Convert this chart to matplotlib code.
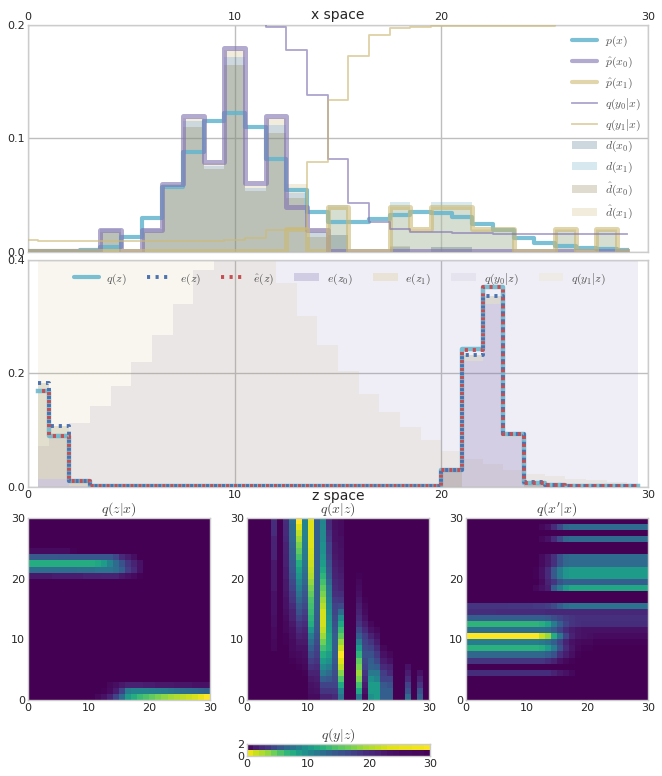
"""Latent space panels: x space and z space densities plus conditional maps."""
import numpy as np
import matplotlib
matplotlib.use('Agg')
import matplotlib.pyplot as plt
from matplotlib.patches import Patch
from matplotlib.lines import Line2D

plt.rcParams.update({
    'font.family': 'DejaVu Sans', 'font.size': 8, 'mathtext.fontset': 'cm',
    'xtick.labelsize': 8, 'ytick.labelsize': 8, 'text.color': '#262626',
    'xtick.color': '#262626', 'ytick.color': '#262626',
    'axes.edgecolor': '#CCCCCC', 'axes.linewidth': 1.0,
})

BLUE, RED, PURPLE, TAN, CYAN = '#4C72B0', '#C44E52', '#8172B2', '#CCB974', '#64B5CD'

# x space, one value per bin 0..29
p_x = [0.0005, 0.0005, 0.0006, 0.002, 0.0045, 0.0135, 0.030, 0.057, 0.0884, 0.115,
       0.1228, 0.110, 0.082, 0.0543, 0.035, 0.026, 0.026, 0.0294, 0.033, 0.035,
       0.034, 0.0305, 0.025, 0.0197, 0.0126, 0.008, 0.005, 0.0035, 0.0026, 0.0018]
p_hat_x0 = [0.0005, 0.0005, 0.0005, 0.0005, 0.0197, 0.0005, 0.0197, 0.06, 0.12, 0.079,
            0.18, 0.0605, 0.12, 0.04, 0.0197, 0.001, 0.0005, 0.0005, 0.0005, 0.0005,
            0.0005, 0.0005, 0.0005, 0.0005, 0.0005, 0.0005, 0.0005, 0.0005, 0.0005, 0.0005]
p_hat_x1 = [0.0005, 0.0005, 0.0005, 0.0005, 0.0005, 0.0005, 0.0005, 0.0005, 0.0005, 0.0005,
            0.0005, 0.0005, 0.0005, 0.02, 0.0005, 0.04, 0.0005, 0.0005, 0.04, 0.02,
            0.04, 0.04, 0.02, 0.02, 0.0005, 0.0005, 0.02, 0.0005, 0.02, 0.0005]
q_y0_x = [0.21, 0.21, 0.21, 0.21, 0.21, 0.21, 0.21, 0.21, 0.21, 0.21,
          0.208, 0.205, 0.198, 0.178, 0.138, 0.082, 0.043, 0.026, 0.020, 0.018,
          0.0175, 0.017, 0.0165, 0.016, 0.016, 0.016, 0.016, 0.016, 0.016, 0.016]
q_y1_x = [0.0103, 0.0094, 0.0094, 0.0094, 0.0094, 0.0094, 0.0094, 0.0094, 0.0094, 0.0094,
          0.0105, 0.0126, 0.019, 0.020, 0.079, 0.134, 0.173, 0.191, 0.197, 0.1985,
          0.199, 0.199, 0.199, 0.199, 0.199, 0.199, 0.203, 0.203, 0.203, 0.203]
d_x0 = [0, 0, 0, 0, 0.02, 0, 0.02, 0.058, 0.115, 0.076,
        0.172, 0.056, 0.112, 0.052, 0.0176, 0.015, 0, 0, 0.004, 0,
        0.004, 0.004, 0, 0, 0, 0, 0, 0, 0, 0]
d_x1 = [0, 0, 0, 0, 0, 0, 0, 0, 0, 0,
        0, 0, 0, 0, 0, 0.0417, 0, 0, 0.044, 0.018,
        0.044, 0.044, 0.0197, 0.0197, 0, 0, 0.0197, 0, 0.0197, 0]
d_hat_x0 = [0, 0, 0, 0, 0.018, 0, 0.018, 0.056, 0.11, 0.0734,
            0.165, 0.054, 0.105, 0.0476, 0.0132, 0.015, 0, 0, 0.005, 0,
            0.004, 0.004, 0, 0, 0, 0, 0, 0, 0, 0]
d_hat_x1 = [0, 0, 0, 0, 0.02, 0, 0.02, 0.06, 0.118, 0.078,
            0.178, 0.0584, 0.118, 0.06, 0.02, 0.04, 0, 0, 0.04, 0.02,
            0.04, 0.04, 0.02, 0.02, 0, 0, 0.02, 0, 0.02, 0]

# z space, one value per bin 0..29
q_z = [0.169, 0.0905, 0.01, 0.001, 0.001, 0.001, 0.001, 0.001, 0.001, 0.001,
       0.001, 0.001, 0.001, 0.001, 0.001, 0.001, 0.001, 0.001, 0.001, 0.001,
       0.0305, 0.2438, 0.3524, 0.094, 0.007, 0.003, 0.001, 0.001, 0.001, 0.001]
e_z = [0.184, 0.107, 0.01, 0.001, 0.001, 0.001, 0.001, 0.001, 0.001, 0.001,
       0.001, 0.001, 0.001, 0.001, 0.001, 0.001, 0.001, 0.001, 0.001, 0.001,
       0.03, 0.232, 0.337, 0.094, 0.008, 0.003, 0.001, 0.001, 0.001, 0.001]
e_hat_z = [0.169, 0.0905, 0.01, 0.001, 0.001, 0.001, 0.001, 0.001, 0.001, 0.001,
           0.001, 0.001, 0.001, 0.001, 0.001, 0.001, 0.001, 0.001, 0.001, 0.001,
           0.0305, 0.242, 0.3524, 0.094, 0.007, 0.003, 0.001, 0.001, 0.001, 0.001]
e_z0 = [0.0147, 0.0147, 0.002, 0, 0, 0, 0, 0, 0, 0,
        0, 0, 0, 0, 0, 0, 0, 0, 0, 0,
        0.0305, 0.2214, 0.3224, 0.0875, 0.005, 0.002, 0, 0, 0, 0]
e_z1 = [0.184, 0.107, 0.01, 0, 0, 0, 0, 0, 0, 0,
        0, 0, 0, 0, 0, 0, 0, 0, 0, 0,
        0, 0.232, 0.337, 0.094, 0, 0, 0, 0, 0, 0]
q_y0_z = [0.0717, 0.089, 0.1128, 0.1433, 0.1785, 0.2197, 0.2684, 0.323, 0.383, 0.42,
          0.42, 0.42, 0.42, 0.42, 0.42, 0.42, 0.42, 0.42, 0.42, 0.42,
          0.42, 0.42, 0.42, 0.42, 0.42, 0.42, 0.42, 0.42, 0.42, 0.42]
q_y1_z = [0.42, 0.42, 0.42, 0.42, 0.42, 0.42, 0.42, 0.42, 0.42, 0.42,
          0.42, 0.42, 0.36, 0.302, 0.2508, 0.205, 0.1645, 0.1316, 0.105, 0.082,
          0.064, 0.05, 0.0405, 0.03, 0.0235, 0.0188, 0.0147, 0.0117, 0.008, 0.006]

# q(z|x): non-empty rows only, each 30 columns
qzx_rows = {
    0: [0, 0, 0, 0, 0, 0, 0, 0, 0, 0, 0, 0.02, 0.05, 0.1, 0.2, 0.35, 0.55, 0.62, 0.68, 0.72,
        0.76, 0.8, 0.83, 0.86, 0.88, 0.9, 0.92, 0.94, 0.97, 1.0],
    1: [0, 0, 0, 0, 0, 0, 0, 0, 0, 0, 0, 0, 0.01, 0.03, 0.08, 0.2, 0.42, 0.45, 0.45, 0.45,
        0.44, 0.43, 0.42, 0.4, 0.38, 0.37, 0.36, 0.35, 0.33, 0.32],
    2: [0, 0, 0, 0, 0, 0, 0, 0, 0, 0, 0, 0, 0, 0.02, 0.04, 0.07, 0.09, 0.09, 0.09, 0.08,
        0.08, 0.07, 0.07, 0.07, 0.06, 0.06, 0.06, 0.05, 0.05, 0.05],
    20: [0.07, 0.07, 0.07, 0.07, 0.08, 0.08, 0.08, 0.08, 0.08, 0.09, 0.09, 0.09, 0.1, 0.1, 0.1,
         0.07, 0.05, 0.03, 0.01, 0, 0, 0, 0, 0, 0, 0, 0, 0, 0, 0],
    21: [0.36, 0.36, 0.36, 0.36, 0.36, 0.36, 0.36, 0.36, 0.37, 0.37, 0.37, 0.38, 0.38, 0.38, 0.36,
         0.3, 0.18, 0.12, 0.05, 0, 0, 0, 0, 0, 0, 0, 0, 0, 0, 0],
    22: [0.62, 0.62, 0.62, 0.62, 0.62, 0.62, 0.62, 0.62, 0.62, 0.62, 0.62, 0.6, 0.55, 0.45, 0.35,
         0.25, 0.15, 0.1, 0.05, 0, 0, 0, 0, 0, 0, 0, 0, 0, 0, 0],
    23: [0.28, 0.28, 0.28, 0.28, 0.28, 0.27, 0.27, 0.27, 0.27, 0.27, 0.27, 0.27, 0.27, 0.27, 0.22,
         0.12, 0.08, 0.04, 0, 0, 0, 0, 0, 0, 0, 0, 0, 0, 0, 0],
    24: [0.03, 0.03, 0.03, 0.03, 0.03, 0.03, 0.03, 0.01, 0, 0, 0, 0, 0, 0, 0,
         0, 0, 0, 0, 0, 0, 0, 0, 0, 0, 0, 0, 0, 0, 0],
}

# q(x|z): non-empty columns only, each 30 rows from z=0 upward
qxz_cols = {
    4: [0, 0, 0, 0, 0, 0, 0, 0, 0.02, 0.02, 0.03, 0.03, 0.04, 0.04, 0.05, 0.05, 0.05, 0.05, 0.07, 0.07,
        0.07, 0.07, 0.07, 0.1, 0.1, 0.1, 0.1, 0.13, 0.13, 0.13],
    6: [0, 0, 0, 0, 0, 0, 0, 0, 0, 0.01, 0.01, 0.02, 0.02, 0.03, 0.04, 0.05, 0.05, 0.06, 0.07, 0.07,
        0.08, 0.08, 0.09, 0.09, 0.1, 0.1, 0.11, 0.12, 0.12, 0.13],
    7: [0, 0, 0, 0, 0, 0, 0.01, 0.02, 0.03, 0.03, 0.04, 0.05, 0.07, 0.09, 0.1, 0.12, 0.15, 0.17, 0.2, 0.22,
        0.25, 0.27, 0.29, 0.31, 0.32, 0.33, 0.35, 0.36, 0.37, 0.38],
    8: [0, 0, 0, 0, 0, 0.01, 0.02, 0.03, 0.05, 0.07, 0.09, 0.12, 0.15, 0.2, 0.25, 0.28, 0.33, 0.38, 0.43, 0.47,
        0.52, 0.57, 0.62, 0.7, 0.75, 0.8, 0.85, 0.9, 0.95, 1.0],
    9: [0, 0, 0, 0, 0.01, 0.02, 0.03, 0.04, 0.05, 0.07, 0.08, 0.1, 0.13, 0.16, 0.19, 0.22, 0.25, 0.27, 0.3, 0.33,
        0.35, 0.37, 0.39, 0.4, 0.41, 0.42, 0.43, 0.44, 0.45, 0.45],
    10: [0.03, 0.04, 0.05, 0.07, 0.1, 0.14, 0.18, 0.24, 0.3, 0.36, 0.42, 0.52, 0.62, 0.65, 0.68, 0.7, 0.72, 0.76, 0.8, 0.84,
         0.88, 0.9, 0.92, 0.93, 0.94, 0.95, 0.95, 0.95, 0.95, 0.95],
    11: [0.03, 0.05, 0.06, 0.08, 0.1, 0.12, 0.15, 0.18, 0.2, 0.23, 0.25, 0.27, 0.28, 0.29, 0.3, 0.3, 0.3, 0.3, 0.3, 0.3,
         0.3, 0.3, 0.3, 0.3, 0.3, 0.3, 0.3, 0.3, 0.3, 0.3],
    12: [0.1, 0.15, 0.2, 0.3, 0.4, 0.47, 0.55, 0.62, 0.7, 0.78, 0.85, 0.9, 0.93, 0.93, 0.93, 0.89, 0.85, 0.8, 0.75, 0.7,
         0.65, 0.6, 0.55, 0.52, 0.5, 0.5, 0.48, 0.47, 0.46, 0.45],
    13: [0.1, 0.15, 0.2, 0.27, 0.35, 0.42, 0.5, 0.56, 0.62, 0.61, 0.6, 0.57, 0.55, 0.52, 0.5, 0.48, 0.45, 0.42, 0.4, 0.35,
         0.3, 0.27, 0.25, 0.22, 0.2, 0.2, 0.17, 0.15, 0.13, 0.12],
    14: [0.12, 0.16, 0.2, 0.22, 0.24, 0.25, 0.27, 0.29, 0.3, 0.3, 0.3, 0.27, 0.25, 0.23, 0.21, 0.2, 0.17, 0.14, 0.12, 0.11,
         0.1, 0.09, 0.08, 0.07, 0.06, 0.06, 0.05, 0.05, 0.04, 0.04],
    15: [0.38, 0.45, 0.6, 0.72, 0.82, 0.9, 0.95, 1.0, 0.92, 0.85, 0.75, 0.68, 0.6, 0.5, 0.35, 0.22, 0.16, 0.13, 0.1, 0.09,
         0.08, 0.07, 0.06, 0.05, 0.05, 0.04, 0.04, 0.03, 0.03, 0.03],
    18: [0.4, 0.6, 0.7, 0.8, 0.85, 0.8, 0.75, 0.65, 0.55, 0.42, 0.3, 0.22, 0.15, 0.12, 0.1, 0.08, 0.06, 0.04, 0.03, 0.02,
         0.01, 0, 0, 0, 0, 0, 0, 0, 0, 0],
    19: [0.02, 0.05, 0.08, 0.12, 0.16, 0.2, 0.22, 0.25, 0.22, 0.2, 0.18, 0.12, 0.08, 0.05, 0.03, 0.02, 0.01, 0, 0, 0,
         0, 0, 0, 0, 0, 0, 0, 0, 0, 0],
    20: [0.5, 0.55, 0.55, 0.5, 0.4, 0.32, 0.3, 0.25, 0.2, 0.15, 0.1, 0.05, 0.02, 0, 0, 0, 0, 0, 0, 0,
         0, 0, 0, 0, 0, 0, 0, 0, 0, 0],
    21: [0.55, 0.55, 0.55, 0.45, 0.4, 0.3, 0.22, 0.17, 0.12, 0.08, 0.05, 0.02, 0, 0, 0, 0, 0, 0, 0, 0,
         0, 0, 0, 0, 0, 0, 0, 0, 0, 0],
    22: [0.3, 0.3, 0.28, 0.2, 0.18, 0.12, 0.08, 0.05, 0.02, 0, 0, 0, 0, 0, 0, 0, 0, 0, 0, 0,
         0, 0, 0, 0, 0, 0, 0, 0, 0, 0],
    23: [0.3, 0.3, 0.25, 0.2, 0.12, 0.1, 0.05, 0.02, 0, 0, 0, 0, 0, 0, 0, 0, 0, 0, 0, 0,
         0, 0, 0, 0, 0, 0, 0, 0, 0, 0],
    26: [0.35, 0.25, 0.2, 0.12, 0.08, 0.05, 0, 0, 0, 0, 0, 0, 0, 0, 0, 0, 0, 0, 0, 0,
         0, 0, 0, 0, 0, 0, 0, 0, 0, 0],
    28: [0.3, 0.25, 0.15, 0.1, 0.05, 0, 0, 0, 0, 0, 0, 0, 0, 0, 0, 0, 0, 0, 0, 0,
         0, 0, 0, 0, 0, 0, 0, 0, 0, 0],
}

# q(x'|x): non-empty rows only, each 30 columns
qxx_rows = {
    4: [0.13, 0.13, 0.13, 0.13, 0.13, 0.13, 0.13, 0.13, 0.13, 0.13, 0.13, 0.13, 0.13, 0.13, 0.1,
        0.07, 0.05, 0.02, 0, 0, 0, 0, 0, 0, 0, 0, 0, 0, 0, 0],
    6: [0.15, 0.15, 0.15, 0.15, 0.15, 0.15, 0.15, 0.15, 0.15, 0.15, 0.15, 0.15, 0.15, 0.13, 0.1,
        0.05, 0.02, 0.01, 0, 0, 0, 0, 0, 0, 0, 0, 0, 0, 0, 0],
    7: [0.33, 0.33, 0.33, 0.33, 0.33, 0.33, 0.33, 0.33, 0.33, 0.33, 0.33, 0.33, 0.33, 0.3, 0.25,
        0.14, 0.08, 0.04, 0.01, 0, 0, 0, 0, 0, 0, 0, 0, 0, 0, 0],
    8: [0.64, 0.64, 0.64, 0.64, 0.64, 0.64, 0.64, 0.64, 0.64, 0.64, 0.64, 0.64, 0.62, 0.55, 0.42,
        0.25, 0.12, 0.06, 0.02, 0.01, 0.01, 0, 0, 0, 0, 0, 0, 0, 0, 0],
    9: [0.42, 0.42, 0.42, 0.42, 0.42, 0.42, 0.42, 0.42, 0.42, 0.42, 0.42, 0.42, 0.4, 0.37, 0.3,
        0.2, 0.1, 0.05, 0.03, 0.02, 0.02, 0.01, 0.01, 0.01, 0.01, 0.01, 0.01, 0.01, 0.01, 0.01],
    10: [1.0, 1.0, 1.0, 1.0, 1.0, 1.0, 1.0, 1.0, 1.0, 1.0, 1.0, 1.0, 0.92, 0.85, 0.62,
         0.4, 0.2, 0.1, 0.06, 0.05, 0.04, 0.03, 0.03, 0.03, 0.03, 0.03, 0.03, 0.03, 0.03, 0.03],
    11: [0.36, 0.36, 0.36, 0.36, 0.36, 0.36, 0.36, 0.36, 0.36, 0.36, 0.36, 0.36, 0.36, 0.34, 0.28,
         0.2, 0.12, 0.08, 0.06, 0.05, 0.05, 0.05, 0.05, 0.05, 0.05, 0.05, 0.05, 0.05, 0.05, 0.05],
    12: [0.65, 0.65, 0.65, 0.65, 0.65, 0.65, 0.65, 0.65, 0.65, 0.65, 0.65, 0.65, 0.63, 0.58, 0.42,
         0.3, 0.2, 0.15, 0.14, 0.13, 0.13, 0.13, 0.13, 0.13, 0.13, 0.13, 0.13, 0.13, 0.13, 0.13],
    13: [0.3, 0.3, 0.3, 0.3, 0.3, 0.3, 0.3, 0.3, 0.3, 0.3, 0.3, 0.3, 0.3, 0.28, 0.24,
         0.2, 0.17, 0.15, 0.14, 0.14, 0.14, 0.14, 0.14, 0.14, 0.14, 0.14, 0.14, 0.14, 0.14, 0.14],
    14: [0.13, 0.13, 0.13, 0.13, 0.13, 0.12, 0.12, 0.12, 0.12, 0.12, 0.12, 0.12, 0.12, 0.11, 0.11,
         0.11, 0.11, 0.11, 0.11, 0.11, 0.11, 0.11, 0.11, 0.11, 0.11, 0.11, 0.11, 0.11, 0.11, 0.11],
    15: [0.15, 0.15, 0.15, 0.15, 0.15, 0.15, 0.15, 0.16, 0.16, 0.16, 0.16, 0.17, 0.17, 0.19, 0.23,
         0.3, 0.36, 0.38, 0.38, 0.38, 0.38, 0.38, 0.38, 0.38, 0.38, 0.38, 0.38, 0.38, 0.38, 0.38],
    18: [0, 0, 0, 0, 0, 0, 0, 0, 0, 0, 0, 0.02, 0.05, 0.08, 0.3,
         0.42, 0.55, 0.6, 0.6, 0.6, 0.6, 0.6, 0.6, 0.6, 0.6, 0.6, 0.6, 0.6, 0.6, 0.6],
    19: [0, 0, 0, 0, 0, 0, 0, 0, 0, 0, 0, 0, 0.03, 0.1, 0.15,
         0.25, 0.3, 0.3, 0.3, 0.3, 0.3, 0.3, 0.3, 0.3, 0.3, 0.3, 0.3, 0.3, 0.3, 0.3],
    20: [0, 0, 0, 0, 0, 0, 0, 0, 0, 0, 0, 0.01, 0.05, 0.12, 0.28,
         0.42, 0.52, 0.55, 0.55, 0.55, 0.55, 0.55, 0.55, 0.55, 0.55, 0.55, 0.55, 0.55, 0.55, 0.55],
    21: [0, 0, 0, 0, 0, 0, 0, 0, 0, 0, 0, 0.01, 0.05, 0.12, 0.28,
         0.42, 0.52, 0.55, 0.55, 0.55, 0.55, 0.55, 0.55, 0.55, 0.55, 0.55, 0.55, 0.55, 0.55, 0.55],
    22: [0, 0, 0, 0, 0, 0, 0, 0, 0, 0, 0, 0, 0.03, 0.07, 0.14,
         0.25, 0.33, 0.35, 0.35, 0.35, 0.35, 0.35, 0.35, 0.35, 0.35, 0.35, 0.35, 0.35, 0.35, 0.35],
    23: [0, 0, 0, 0, 0, 0, 0, 0, 0, 0, 0, 0, 0.03, 0.07, 0.14,
         0.25, 0.33, 0.35, 0.35, 0.35, 0.35, 0.35, 0.35, 0.35, 0.35, 0.35, 0.35, 0.35, 0.35, 0.35],
    26: [0, 0, 0, 0, 0, 0, 0, 0, 0, 0, 0, 0, 0.02, 0.05, 0.12,
         0.22, 0.33, 0.35, 0.35, 0.35, 0.35, 0.35, 0.35, 0.35, 0.35, 0.35, 0.35, 0.35, 0.35, 0.35],
    28: [0, 0, 0, 0, 0, 0, 0, 0, 0, 0, 0, 0, 0.02, 0.05, 0.12,
         0.22, 0.33, 0.35, 0.35, 0.35, 0.35, 0.35, 0.35, 0.35, 0.35, 0.35, 0.35, 0.35, 0.35, 0.35],
}

# q(y|z): two rows
qyz_y0 = [0.97, 0.92, 0.88, 0.84, 0.78, 0.72, 0.66, 0.62, 0.56, 0.5, 0.45, 0.4, 0.36, 0.32, 0.28,
          0.25, 0.22, 0.19, 0.16, 0.13, 0.11, 0.09, 0.07, 0.05, 0.04, 0.03, 0.03, 0.02, 0.02, 0.01]
qyz_y1 = [0.03, 0.08, 0.12, 0.16, 0.22, 0.28, 0.34, 0.38, 0.44, 0.5, 0.55, 0.6, 0.64, 0.68, 0.72,
          0.75, 0.78, 0.81, 0.84, 0.87, 0.89, 0.91, 0.93, 0.95, 0.96, 0.97, 0.97, 0.98, 0.98, 0.99]

W, H = 662, 776


def axes_px(left, top, right, bottom):
    return [left / W, 1 - bottom / H, (right - left) / W, (bottom - top) / H]


def style_density(ax, ymax, yticks):
    ax.set_xlim(0, 30)
    ax.set_ylim(0, ymax)
    ax.set_xticks([0, 10, 20, 30])
    ax.set_yticks(yticks)
    ax.set_yticklabels(['%.1f' % t for t in yticks])
    ax.grid(True, color='#BEBEBE', linewidth=1)
    ax.set_axisbelow(True)
    ax.tick_params(length=0, pad=2)


def to_matrix(rows=None, cols=None):
    m = np.zeros((30, 30))
    for k, v in (rows or {}).items():
        m[k, :] = v
    for k, v in (cols or {}).items():
        m[:, k] = v
    return m


def heat(ax, m, title, vmax=1.0):
    ax.imshow(m, origin='lower', extent=[0, 30, 0, 30], aspect='auto', cmap='viridis',
              interpolation='nearest', vmin=0, vmax=vmax)
    ax.set_xticks([0, 10, 20, 30])
    ax.set_yticks([0, 10, 20, 30])
    ax.tick_params(length=0, pad=2)
    ax.set_title(title, fontsize=10, pad=2, color='#444444')


fig = plt.figure(figsize=(W / 100, H / 100), dpi=100)

# x space
ax = fig.add_axes(axes_px(28, 25, 648, 252))
xs = np.arange(30)
ax.fill_between(xs, 0, d_x0, step='mid', color='#588091', alpha=0.3, linewidth=0)
ax.fill_between(xs, 0, d_x1, step='mid', color='#7DB9CD', alpha=0.3, linewidth=0)
ax.fill_between(xs, 0, d_hat_x0, step='mid', color='#988E62', alpha=0.3, linewidth=0)
# cream only shows above the x0 bars
ax.fill_between(xs, d_x0, d_hat_x1, step='mid', color='#D4C38E', alpha=0.3, linewidth=0)
ax.step(xs, p_x, where='mid', color=CYAN, alpha=0.85, lw=3, solid_joinstyle='round', zorder=3)
ax.step(xs, p_hat_x0, where='mid', color=PURPLE, alpha=0.6, lw=3.6, solid_joinstyle='round', zorder=3)
ax.step(xs, p_hat_x1, where='mid', color=TAN, alpha=0.6, lw=3.6, solid_joinstyle='round', zorder=3)
ax.step(xs, q_y0_x, where='mid', color=PURPLE, alpha=0.65, lw=1.3, zorder=3)
ax.step(xs, q_y1_x, where='mid', color=TAN, alpha=0.65, lw=1.3, zorder=3)
style_density(ax, 0.2, [0.0, 0.1, 0.2])
ax.xaxis.tick_top()
ax.text(0.5, 1.044, 'x space', transform=ax.transAxes, ha='center', va='center', fontsize=10)
top_handles = [
    Line2D([], [], color=CYAN, alpha=0.85, lw=3, solid_capstyle='round'),
    Line2D([], [], color=PURPLE, alpha=0.6, lw=3, solid_capstyle='round'),
    Line2D([], [], color=TAN, alpha=0.6, lw=3, solid_capstyle='round'),
    Line2D([], [], color=PURPLE, alpha=0.65, lw=1.3),
    Line2D([], [], color=TAN, alpha=0.65, lw=1.3),
    Patch(color='#588091', alpha=0.3, lw=0), Patch(color='#7DB9CD', alpha=0.3, lw=0),
    Patch(color='#988E62', alpha=0.3, lw=0), Patch(color='#D4C38E', alpha=0.3, lw=0),
]
top_labels = ['$p(x)$', r'$\hat{p}(x_0)$', r'$\hat{p}(x_1)$', '$q(y_0|x)$', '$q(y_1|x)$',
              '$d(x_0)$', '$d(x_1)$', r'$\hat{d}(x_0)$', r'$\hat{d}(x_1)$']
ax.legend(top_handles, top_labels, loc='upper left', bbox_to_anchor=(0.877, 0.96), frameon=False,
          fontsize=8.5, labelspacing=0.48, handlelength=2.1, handletextpad=0.7, borderpad=0,
          borderaxespad=0, labelcolor='#555555')

# z space
ax = fig.add_axes(axes_px(28, 260, 648, 487))
zs = np.arange(30) + 0.5
ax.fill_between(zs, 0, q_y0_z, step='mid', color=PURPLE, alpha=0.12, linewidth=0)
ax.fill_between(zs, 0, q_y1_z, step='mid', color=TAN, alpha=0.12, linewidth=0)
ax.fill_between(zs, 0, e_z0, step='mid', color=PURPLE, alpha=0.25, linewidth=0)
# tan only shows above the z0 fill
ax.fill_between(zs, e_z0, e_z1, step='mid', color='#9A8F5E', alpha=0.22, linewidth=0)
ax.step(zs, q_z, where='mid', color=CYAN, alpha=0.85, lw=3.2, solid_joinstyle='round', zorder=3)
ax.step(zs, e_z, where='mid', color=BLUE, lw=2.8, linestyle=(0, (0.8, 1.25)), dash_capstyle='butt', zorder=3)
ax.step(zs, e_hat_z, where='mid', color=RED, lw=2.8, linestyle=(1.0, (0.8, 1.25)), dash_capstyle='butt', zorder=3)
style_density(ax, 0.4, [0.0, 0.2, 0.4])
ax.text(0.5, -0.039, 'z space', transform=ax.transAxes, ha='center', va='center', fontsize=10)
mid_handles = [
    Line2D([], [], color=CYAN, alpha=0.85, lw=3, solid_capstyle='round'),
    Line2D([], [], color=BLUE, lw=2.8, linestyle=(0, (0.8, 1.4)), dash_capstyle='butt'),
    Line2D([], [], color=RED, lw=2.8, linestyle=(0, (0.8, 1.4)), dash_capstyle='butt'),
    Patch(color='#D0CCE3', lw=0), Patch(color='#E8E3D6', lw=0),
    Patch(color='#E5E3EE', lw=0), Patch(color='#EEEBE6', lw=0),
]
mid_labels = ['$q(z)$', '$e(z)$', r'$\hat{e}(z)$', '$e(z_0)$', '$e(z_1)$', '$q(y_0|z)$', '$q(y_1|z)$']
ax.legend(mid_handles, mid_labels, loc='upper left', bbox_to_anchor=(0.074, 0.95), frameon=False,
          fontsize=8.5, ncol=7, handlelength=2.1, handletextpad=0.65, columnspacing=1.7, borderpad=0,
          borderaxespad=0, labelcolor='#555555')

# conditional maps
ax = fig.add_axes(axes_px(28, 518, 210, 700))
heat(ax, to_matrix(rows=qzx_rows), '$q(z|x)$')
ax = fig.add_axes(axes_px(247, 518, 429, 700))
heat(ax, to_matrix(cols=qxz_cols), '$q(x|z)$')
ax = fig.add_axes(axes_px(466, 518, 648, 700))
heat(ax, to_matrix(rows=qxx_rows), "$q(x'|x)$")

ax = fig.add_axes(axes_px(247, 744, 430, 756))
ax.imshow(np.array([qyz_y0, qyz_y1]), origin='lower', extent=[0, 30, 0, 2], aspect='auto', cmap='viridis',
          interpolation='nearest', vmin=0, vmax=1)
ax.set_xticks([0, 10, 20, 30])
ax.set_yticks([0, 2])
ax.tick_params(length=0, pad=2)
ax.set_title('$q(y|z)$', fontsize=10, pad=2, color='#444444')

fig.savefig('out.png', dpi=100)
